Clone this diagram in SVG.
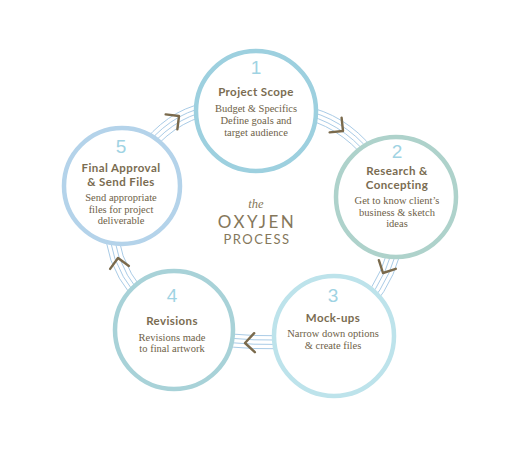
<svg xmlns="http://www.w3.org/2000/svg" xmlns:xlink="http://www.w3.org/1999/xlink" width="519" height="449" viewBox="0 0 519 449">
<style>
.bg{fill:#ffffff}
.ln{fill:none;stroke:#a9cbe6;stroke-width:1}
.ring{fill:#ffffff;stroke-width:4.5}
.arr{fill:none;stroke:#7a6a4c;stroke-width:2.4;stroke-linecap:round;stroke-linejoin:round}
.num{font-family:"Liberation Sans",Arial,sans-serif;font-size:19px;fill:#9fd3e3;text-anchor:middle}
.ttl{font-family:Lato,"Liberation Sans",sans-serif;font-weight:700;font-size:11.5px;fill:#7a6c51;text-anchor:middle;letter-spacing:0.4px}
.body{font-family:"Liberation Serif","Times New Roman",serif;font-size:10.5px;fill:#6e6148;text-anchor:middle}
.the{font-family:"Liberation Serif",serif;font-style:italic;font-size:12.5px;fill:#85775b;text-anchor:middle}
.big{font-family:Lato,"Liberation Sans",sans-serif;font-size:17px;fill:#85775b;text-anchor:middle;letter-spacing:2.5px}
.sub{font-family:Lato,"Liberation Sans",sans-serif;font-size:13px;fill:#85775b;text-anchor:middle;letter-spacing:1.5px}
</style>
<defs>
<path id="chev" d="M-10,-9 L0,0 L-9,10"/>
</defs>
<rect class="bg" x="0" y="0" width="519" height="449"/>
<g id="connectors">
<g id="c12">
<path class="ln" d="M256,111 Q350,98 396,197" transform="translate(-3.4,5.5)"/>
<path class="ln" d="M256,111 Q350,98 396,197" transform="translate(-1.15,1.87)"/>
<path class="ln" d="M256,111 Q350,98 396,197" transform="translate(1.15,-1.87)"/>
<path class="ln" d="M256,111 Q350,98 396,197" transform="translate(3.4,-5.5)"/>
</g>
<g id="c23">
<path class="ln" d="M396,197 Q409,277.5 334,336" transform="translate(-5.9,-2.6)"/>
<path class="ln" d="M396,197 Q409,277.5 334,336" transform="translate(-2,-0.9)"/>
<path class="ln" d="M396,197 Q409,277.5 334,336" transform="translate(2,0.9)"/>
<path class="ln" d="M396,197 Q409,277.5 334,336" transform="translate(5.9,2.6)"/>
</g>
<g id="c34">
<path class="ln" d="M334,336 Q254,351 174,330" transform="translate(0.24,-6.5)"/>
<path class="ln" d="M334,336 Q254,351 174,330" transform="translate(0.08,-2.2)"/>
<path class="ln" d="M334,336 Q254,351 174,330" transform="translate(-0.08,2.2)"/>
<path class="ln" d="M334,336 Q254,351 174,330" transform="translate(-0.24,6.5)"/>
</g>
<g id="c45">
<path class="ln" d="M174,330 Q86,258 122,186" transform="translate(6.1,-2.2)"/>
<path class="ln" d="M174,330 Q86,258 122,186" transform="translate(2.07,-0.75)"/>
<path class="ln" d="M174,330 Q86,258 122,186" transform="translate(-2.07,0.75)"/>
<path class="ln" d="M174,330 Q86,258 122,186" transform="translate(-6.1,2.2)"/>
</g>
<g id="c51">
<path class="ln" d="M122,186 Q171,89.5 256,111" transform="translate(3.2,5.7)"/>
<path class="ln" d="M122,186 Q171,89.5 256,111" transform="translate(1.07,1.92)"/>
<path class="ln" d="M122,186 Q171,89.5 256,111" transform="translate(-1.07,-1.92)"/>
<path class="ln" d="M122,186 Q171,89.5 256,111" transform="translate(-3.2,-5.7)"/>
</g>
<use xlink:href="#chev" href="#chev" class="arr" transform="translate(343,131) rotate(42)"/>
<use xlink:href="#chev" href="#chev" class="arr" transform="translate(383,273) rotate(120)"/>
<use xlink:href="#chev" href="#chev" class="arr" transform="translate(245,343) rotate(181)"/>
<use xlink:href="#chev" href="#chev" class="arr" transform="translate(118,258) rotate(-96)"/>
<use xlink:href="#chev" href="#chev" class="arr" transform="translate(179,116) rotate(-35)"/>
</g>
<g id="node1">
<circle class="ring" cx="256" cy="111" r="60" stroke="#9dd0df"/>
<text class="num" x="256" y="74">1</text>
<text class="ttl" x="256" y="96">Project Scope</text>
<text class="body" x="256" y="112">Budget &amp; Specifics</text>
<text class="body" x="256" y="124">Define goals and</text>
<text class="body" x="256" y="136">target audience</text>
</g>
<g id="node2">
<circle class="ring" cx="396" cy="197" r="60" stroke="#aed2cb"/>
<text class="num" x="397" y="158">2</text>
<text class="ttl" x="397" y="175">Research &amp;</text>
<text class="ttl" x="397" y="189">Concepting</text>
<text class="body" x="397" y="204">Get to know client’s</text>
<text class="body" x="397" y="216">business &amp; sketch</text>
<text class="body" x="397" y="227">ideas</text>
</g>
<g id="node3">
<circle class="ring" cx="334" cy="336" r="60" stroke="#bde3eb"/>
<text class="num" x="333" y="302">3</text>
<text class="ttl" x="333" y="322">Mock-ups</text>
<text class="body" x="333" y="337">Narrow down options</text>
<text class="body" x="333" y="349">&amp; create files</text>
</g>
<g id="node4">
<circle class="ring" cx="174" cy="330" r="59" stroke="#a8d2d8"/>
<text class="num" x="172" y="302">4</text>
<text class="ttl" x="172" y="325">Revisions</text>
<text class="body" x="172" y="341">Revisions made</text>
<text class="body" x="172" y="352">to final artwork</text>
</g>
<g id="node5">
<circle class="ring" cx="122" cy="186" r="58" stroke="#b4d3ea"/>
<text class="num" x="121" y="153">5</text>
<text class="ttl" x="121" y="172">Final Approval</text>
<text class="ttl" x="121" y="186">&amp; Send Files</text>
<text class="body" x="121" y="201">Send appropriate</text>
<text class="body" x="121" y="213">files for project</text>
<text class="body" x="121" y="224">deliverable</text>
</g>
<g id="center">
<text class="the" x="256" y="208">the</text>
<text class="big" x="257" y="228">OXYJEN</text>
<text class="sub" x="257" y="244">PROCESS</text>
</g>
</svg>
